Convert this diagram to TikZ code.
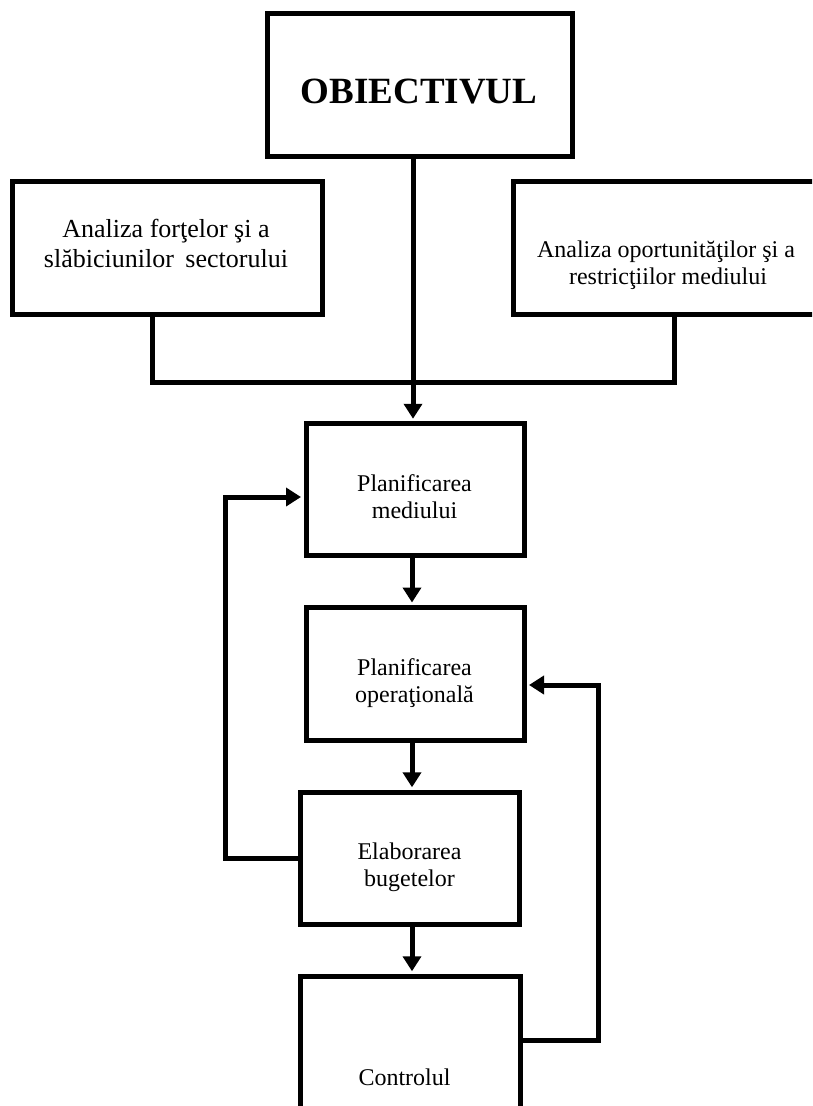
\documentclass[tikz,border=0pt]{standalone}
\usepackage{fontspec}
\setmainfont{Liberation Serif}
\usetikzlibrary{arrows.meta}
\begin{document}
\begin{tikzpicture}[x=1pt,y=-1pt,
  box/.style={draw,line width=5pt,rectangle,inner sep=0pt},
  conn/.style={line width=5pt,line join=miter},
  arr/.style={conn,-{Triangle[width=18pt,length=15pt]},shorten >=2.5pt},
  lbl/.style={anchor=base,inner sep=0pt,font=\fontsize{24}{27}\selectfont},
  lblbig/.style={anchor=base,inner sep=0pt,font=\fontsize{26}{30}\selectfont}]
\useasboundingbox (0,0) rectangle (812,1106);
\clip (0,0) rectangle (812,1106);

% boxes
\node[box,minimum width=305pt,minimum height=143pt] (obj) at (420,85) {};
\node[box,minimum width=310.5pt,minimum height=133pt] (left) at (167.25,248) {};
\node[box,minimum width=326.5pt,minimum height=133pt] (right) at (676.75,248) {};
\node[box,minimum width=218pt,minimum height=131.5pt] (pm) at (415,489.5) {};
\node[box,minimum width=218pt,minimum height=133pt] (po) at (415,674) {};
\node[box,minimum width=219pt,minimum height=132pt] (eb) at (409.5,858.3) {};
\node[box,minimum width=220pt,minimum height=203.5pt] (ctrl) at (410,1078) {};

% texts
\node[anchor=base,inner sep=0pt,font=\fontsize{37}{40}\selectfont\bfseries] (tobj) at (419,103) {OBIECTIVUL};
\node[lblbig] (tl1) at (166,237) {Analiza forţelor şi a};
\node[lblbig] (tl2) at (166,267) {slăbiciunilor\hspace{5pt} sectorului};
\node[lbl] (tr1) at (666,257) {Analiza oportunităţilor şi a};
\node[lbl] (tr2) at (668,284) {restricţiilor mediului};
\node[lbl] (tpm1) at (414.5,491) {Planificarea};
\node[lbl] (tpm2) at (414.5,518) {mediului};
\node[lbl] (tpo1) at (414.5,675) {Planificarea};
\node[lbl] (tpo2) at (414.5,702) {operaţională};
\node[lbl] (teb1) at (409.5,859) {Elaborarea};
\node[lbl] (teb2) at (409.5,886) {bugetelor};
\node[lbl] (tctrl) at (404.5,1085) {Controlul};

% helper coordinates
\coordinate (cx) at (413,0);
\coordinate (ax) at (412,0);
\coordinate (jl) at (152,382);
\coordinate (jr) at (674,382);
\coordinate (fl) at (225,0);
\coordinate (fy1) at (0,497);
\coordinate (fr) at (598,0);
\coordinate (fy2) at (0,1040);
\coordinate (fy3) at (0,685);

% connectors
\draw[conn] (jl |- left.south) -- (jl) -- (jr) -- (jr |- right.south);
\draw[arr] (obj.south -| cx) -- (pm.north -| cx);
\draw[arr] (pm.south -| ax) -- (po.north -| ax);
\draw[arr] (po.south -| ax) -- (eb.north -| ax);
\draw[arr] (eb.south -| ax) -- (ctrl.north -| ax);
\draw[arr] (eb.west) -- (eb.west -| fl) -- (fl |- fy1) -- (pm.west |- fy1);
\draw[arr] (ctrl.east |- fy2) -- (fr |- fy2) -- (fr |- fy3) -- (po.east |- fy3);
\end{tikzpicture}
\end{document}
